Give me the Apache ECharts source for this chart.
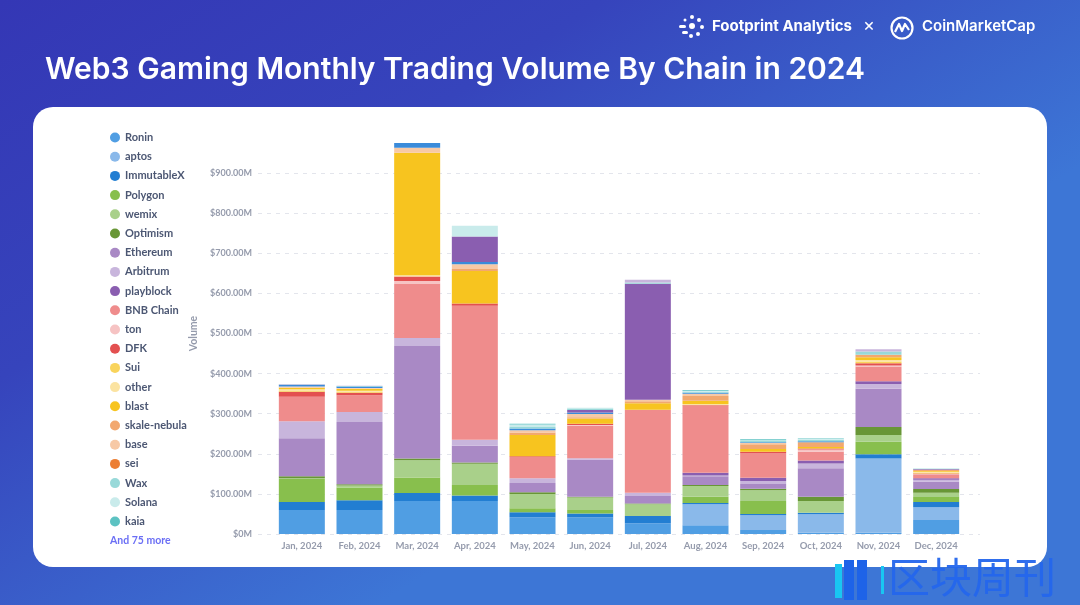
<!DOCTYPE html>
<html><head><meta charset="utf-8">
<script src="https://cdn.jsdelivr.net/npm/echarts@6/dist/echarts.min.js"></script>
<style>html,body{margin:0;padding:0;background:#3538b5;overflow:hidden}#c{width:1080px;height:605px}</style>
</head><body><div id="c"></div>
<script>
// ---- data (values in $M) ----
const months = ['Jan, 2024','Feb, 2024','Mar, 2024','Apr, 2024','May, 2024','Jun, 2024','Jul, 2024','Aug, 2024','Sep, 2024','Oct, 2024','Nov, 2024','Dec, 2024'];
const legendNames = ['Ronin','aptos','ImmutableX','Polygon','wemix','Optimism','Ethereum','Arbitrum','playblock','BNB Chain','ton','DFK','Sui','other','blast','skale-nebula','base','sei','Wax','Solana','kaia'];
const Ronin      = [60,60,82,82,42,41,27,22,10,3,3,35];
const aptos      = [0,0,0,0,0,0,0,52,37,46,185,32];
const ImmutableX = [20,24,20,14,12,10,18,3,3,4,11,13];
const Polygon    = [57,32,39,26,10,9,0,16,32,0,31,12];
const wemix      = [2,5,43,53,36,31,29,27,27,29,17,11];
const Optimism   = [5,3,4,3,4,2,2,2,4,11,20,9];
const Ethereum   = [95,155,281,42,23,92,19,22,12,71,95,18];
const Arbitrum   = [42,25,20,15,12,4,8,2,7,12,12,5];
const playblock  = [0,0,0,0,0,0,0,7,8,7,7,4];
const BNB        = [61,42,136,334,53,81,207,166,62,22,37,8];
const ton        = [0,0,6,0,0,2,0,0,0,6,2,2];
const DFK        = [13,6,11,6,2,3,0,2,3,2,6,2];
const Sui        = [3,3,0,0,0,0,0,0,0,0,4,2];
const other      = [3,2,3,0,0,0,0,3,0,0,4,2];
const blast      = [4,5,306,81,53,13,16,8,7,4,7,2];
const skale      = [0,0,0,5,6,3,5,12,12,12,6,3];
const base       = [3,2,12,12,6,8,4,6,3,0,0,0];
const sei        = [0,0,0,0,0,0,0,0,0,0,0,0];
const moreBlue   = [4,4,12,5,4,4,0,2,2,2,0,1];
const morePurple = [0,0,0,64,0,6,289,0,0,0,0,1];
const Wax        = [1,1,0,0,4,4,3,3,3,4,8,1];
const Solana     = [0,0,0,27,6,2,0,2,2,2,0,1];
const kaia       = [0,0,0,0,2,0,0,2,2,1,0,0];
const moreLav    = [1,1,0,0,0,0,7,0,0,0,6,0];

// stacking order (bottom -> top)
const stackDefs = [
  ['Ronin', Ronin, '#509EE3'],
  ['aptos', aptos, '#8AB9EA'],
  ['ImmutableX', ImmutableX, '#227ED2'],
  ['Polygon', Polygon, '#88BF4D'],
  ['wemix', wemix, '#A9D08A'],
  ['Optimism', Optimism, '#689636'],
  ['Ethereum', Ethereum, '#A989C5'],
  ['Arbitrum', Arbitrum, '#C8B5DC'],
  ['playblock', playblock, '#8A5EB0'],
  ['BNB Chain', BNB, '#EF8C8C'],
  ['ton', ton, '#F6C3C3'],
  ['DFK', DFK, '#E35050'],
  ['Sui', Sui, '#F9D45C'],
  ['other', other, '#FBE3A1'],
  ['blast', blast, '#F7C41F'],
  ['skale-nebula', skale, '#F2A86F'],
  ['base', base, '#F7C9A6'],
  ['sei', sei, '#EC7E33'],
  ['more-a', moreBlue, '#3A8BDA'],
  ['more-b', morePurple, '#8A5EB0'],
  ['Wax', Wax, '#98D9D9'],
  ['Solana', Solana, '#C9EBEB'],
  ['kaia', kaia, '#5CC2C2'],
  ['more-c', moreLav, '#C8B5DC']
];

const chart = echarts.init(document.getElementById('c'), null, {renderer:'canvas'});
const gray = '#959BAC';
const series = stackDefs.map(([name, arr, color]) => ({
  name, type:'bar', stack:'total', xAxisIndex:1, yAxisIndex:1,
  barWidth:46, data:arr, itemStyle:{color}, emphasis:{disabled:true}
}));

const fmt = v => v >= 1000 ? '' : (v === 0 ? '$0M' : '$' + v.toFixed(2) + 'M');

chart.setOption({
  animation:false,
  graphic:[
    {type:'rect', z:-10, silent:true, shape:{x:0,y:0,width:1080,height:605},
      style:{fill:new echarts.graphic.LinearGradient(0,0,0.35,1,[{offset:0,color:'#3437B5'},{offset:0.45,color:'#3644BC'},{offset:1,color:'#3D76D6'}])}},
    {type:'rect', z:-9, silent:true, shape:{x:33,y:107,width:1014,height:460,r:20}, style:{fill:'#ffffff'}},
    {type:'text', z:10, left:45, top:55, style:{text:'Web3 Gaming Monthly Trading Volume By Chain in 2024', fill:'#ffffff', font:'600 30px Inter, "Noto Sans", sans-serif'}},
    // Footprint logo (sunburst)
    {type:'group', z:10, left:679, top:15, children:[
      {type:'circle', shape:{cx:13,cy:12,r:3}, style:{fill:'#fff'}},
      {type:'circle', shape:{cx:13,cy:3,r:2}, style:{fill:'#fff'}},
      {type:'circle', shape:{cx:20,cy:6,r:2}, style:{fill:'#fff'}},
      {type:'circle', shape:{cx:23,cy:13,r:2}, style:{fill:'#fff'}},
      {type:'circle', shape:{cx:19,cy:20,r:2}, style:{fill:'#fff'}},
      {type:'circle', shape:{cx:12,cy:22,r:2}, style:{fill:'#fff'}},
      {type:'circle', shape:{cx:6,cy:6,r:1.5}, style:{fill:'#fff'}},
      {type:'rect', shape:{x:0,y:11,width:7,height:3,r:1.5}, style:{fill:'#fff'}},
      {type:'rect', shape:{x:3,y:17,width:6,height:3,r:1.5}, style:{fill:'#fff'}}
    ]},
    {type:'text', z:10, left:712, top:19, style:{text:'Footprint Analytics', fill:'#fff', font:'700 15px Inter, sans-serif'}},
    {type:'text', z:10, left:863, top:17, style:{text:'×', fill:'#fff', font:'400 18px Inter, sans-serif'}},
    {type:'group', z:10, left:889, top:15, children:[
      {type:'circle', shape:{cx:12,cy:12,r:10.5}, style:{fill:'none', stroke:'#fff', lineWidth:2.2}},
      {type:'polyline', shape:{points:[[5,16],[9,8],[12,15],[15,8],[19,14]]}, style:{fill:'none', stroke:'#fff', lineWidth:2.2, lineJoin:'round'}}
    ]},
    {type:'text', z:10, left:922, top:19, style:{text:'CoinMarketCap', fill:'#fff', font:'600 15px Inter, sans-serif'}},
    {type:'text', z:10, left:110, top:535, style:{text:'And 75 more', fill:'#6B6FF5', font:'700 10.5px Lato, sans-serif'}},
    // watermark
    {type:'group', z:100, left:835, top:560, silent:true, children:[
      {type:'rect', shape:{x:0,y:4,width:7,height:34}, style:{fill:'#19C6F2'}},
      {type:'rect', shape:{x:9,y:0,width:10,height:40}, style:{fill:'#1E63E8'}},
      {type:'rect', shape:{x:22,y:0,width:10,height:40}, style:{fill:'#1E63E8'}},
      {type:'rect', shape:{x:46,y:6,width:3,height:28}, style:{fill:'#19C6F2'}}
    ]},
    {type:'text', z:100, left:888, top:556, silent:true, style:{text:'区块周刊', fill:'#2466EC', opacity:0.95, font:'400 42px "Noto Sans CJK SC", sans-serif'}}
  ],
  legend:{
    data:legendNames, orient:'vertical', left:110, top:132, padding:0,
    icon:'circle', itemWidth:10, itemHeight:10, itemGap:8.2,
    textStyle:{color:'#4C5773', fontSize:11, fontWeight:700, fontFamily:'Lato, sans-serif', lineHeight:10},
    selectedMode:false
  },
  grid:[
    {left:258, right:100, top:133, bottom:71},
    {left:273, right:115, top:133, bottom:71}
  ],
  xAxis:[
    {type:'category', gridIndex:0, data:months, show:false},
    {type:'category', gridIndex:1, data:months, axisLine:{show:false}, axisTick:{show:false},
      axisLabel:{interval:0, color:gray, fontSize:9.5, fontWeight:700, fontFamily:'Lato, sans-serif', margin:7}}
  ],
  yAxis:[
    {type:'value', gridIndex:0, min:0, max:1000, interval:100, name:'Volume', nameLocation:'middle', nameGap:37,
      nameTextStyle:{color:gray, fontSize:10.5, fontWeight:700, fontFamily:'Lato, sans-serif'},
      axisLabel:{formatter:fmt, color:gray, fontSize:9, fontWeight:700, fontFamily:'Lato, sans-serif', margin:6},
      axisLine:{show:false}, axisTick:{show:false},
      splitLine:{show:true, showMaxLine:false, lineStyle:{color:'#E3E5EC', type:[4,5], width:1}}},
    {type:'value', gridIndex:1, min:0, max:1000, interval:100, show:false, splitLine:{show:false}}
  ],
  series
});
</script>
</body></html>
